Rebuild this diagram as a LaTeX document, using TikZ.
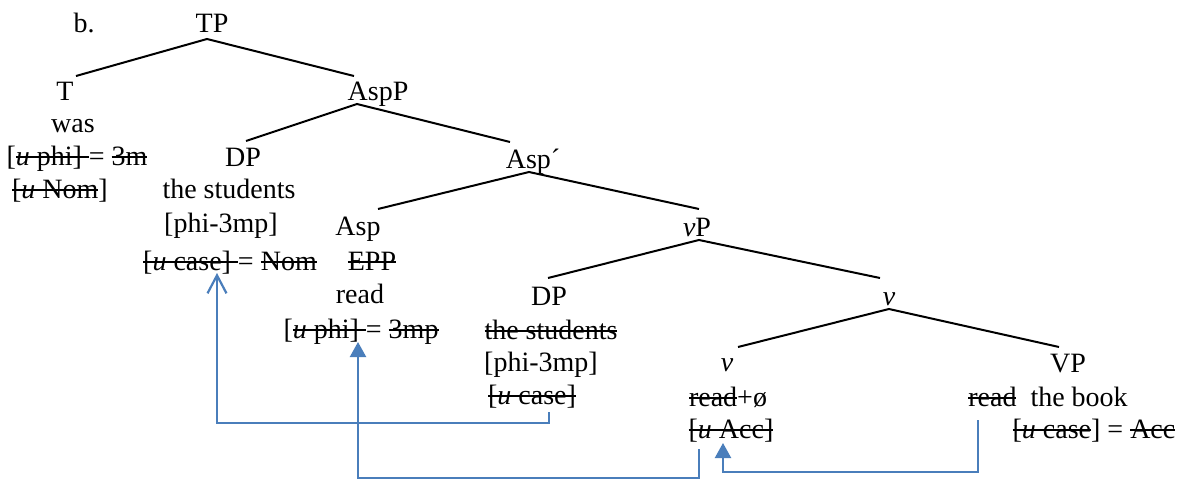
\documentclass[tikz,border=0pt]{standalone}
\usepackage{fontspec}
\setmainfont{Liberation Serif}
\usetikzlibrary{arrows.meta}
\definecolor{arrowblue}{RGB}{74,126,187}
\newcommand\strk[1]{\setbox0=\hbox{#1}\rlap{\rule[0.26em]{\wd0}{2pt}}\box0}
\tikzset{
  lbl/.style={anchor=base, inner sep=0pt, font=\fontsize{28}{31}\selectfont},
  branch/.style={line width=2pt, black},
  link/.style={line width=2.2pt, arrowblue},
  openhead/.style={-{Straight Barb[length=18pt,width=19pt,line width=2.2pt]}},
  fullhead/.style={-{Triangle[length=15pt,width=16pt]}}
}
\begin{document}
\begin{tikzpicture}[x=1pt,y=-1pt]
\useasboundingbox (0,0) rectangle (1181,479);
% labels
\node[lbl] (b) at (84,32) {b.};
\node[lbl] (TP) at (212,32) {TP};
\node[lbl] (T) at (65,100) {T};
\node[lbl] (AspP) at (378,100) {AspP};
\node[lbl] (was) at (73,132) {was};
\node[lbl] (uphiA) at (77,165) {[\strk{\textit{u} phi] }= \strk{3m}};
\node[lbl] (uNom) at (60,198) {\strk{[\textit{u} Nom}]};
\node[lbl] (DPa) at (243,166) {DP};
\node[lbl] (studA) at (229,198) {the students};
\node[lbl] (phiA) at (221,232) {[phi-3mp]};
\node[lbl] (ucaseA) at (230,270) {\strk{[\textit{u} case] }= \strk{Nom}};
\node[lbl] (Aspbar) at (533,168) {Asp´};
\node[lbl] (Asp) at (358,235) {Asp};
\node[lbl] (EPP) at (372,270) {\strk{EPP}};
\node[lbl] (readA) at (360,303) {read};
\node[lbl] (uphiB) at (361,338) {[\strk{\textit{u} phi] }= \strk{3mp}};
\node[lbl] (vP) at (697,236) {\textit{v}P};
\node[lbl] (DPb) at (549,305) {DP};
\node[lbl] (studB) at (551,339) {\strk{the students}};
\node[lbl] (phiB) at (541,371) {[phi-3mp]};
\node[lbl] (ucaseB) at (532,404) {\strk{[\textit{u} case]}};
\node[lbl] (vA) at (889,305) {\textit{v}};
\node[lbl] (vB) at (727,371) {\textit{v}};
\node[lbl] (readv) at (728,406) {\strk{read}+ø};
\node[lbl] (uAcc) at (731,438) {\strk{[\textit{u} Acc]}};
\node[lbl] (VP) at (1068,372) {VP};
\node[lbl] (readbook) at (1048,406) {\strk{read}\ \ the book};
\node[lbl] (ucaseC) at (1094,438) {\strk{[\textit{u} case}] = \strk{Acc}};
% tree branches
\draw[branch] ([shift={(11,-24)}]T.base) -- ([shift={(-5,7)}]TP.base) -- ([shift={(-24,-24)}]AspP.base);
\draw[branch] ([shift={(3,-25)}]DPa.base) -- ([shift={(-21,4)}]AspP.base) -- ([shift={(-23,-26)}]Aspbar.base);
\draw[branch] ([shift={(20,-26)}]Asp.base) -- ([shift={(-4,4)}]Aspbar.base) -- ([shift={(2,-27)}]vP.base);
\draw[branch] ([shift={(-1,-27)}]DPb.base) -- ([shift={(2,4)}]vP.base) -- ([shift={(-9,-27)}]vA.base);
\draw[branch] ([shift={(11,-24)}]vB.base) -- ([shift={(0,4)}]vA.base) -- ([shift={(-9,-25)}]VP.base);
% agreement arrows
\draw[link,openhead] ([shift={(17,8)}]ucaseB.base) -- ++(0,11) -| ([shift={(-13,3)}]ucaseA.base);
\draw[link,fullhead] ([shift={(-32,11)}]uAcc.base) -- ++(0,29) -| ([shift={(-3,4)}]uphiB.base);
\draw[link,fullhead] ([shift={(-70,14)}]readbook.base) -- ++(0,52) -| ([shift={(-8,5)}]uAcc.base);
\end{tikzpicture}
\end{document}
